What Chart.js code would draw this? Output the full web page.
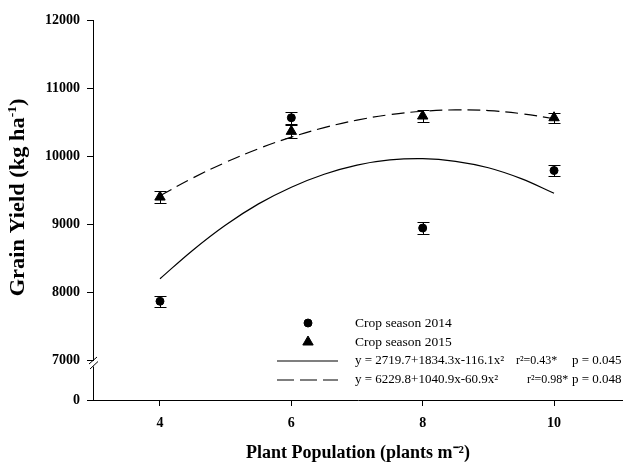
<!DOCTYPE html>
<html>
<head>
<meta charset="utf-8">
<script src="https://cdn.jsdelivr.net/npm/chart.js@4.4.1/dist/chart.umd.min.js"></script>
<style>
  html, body { margin: 0; padding: 0; background: #fff; }
  canvas { display: block; }
</style>
</head>
<body>
<canvas id="yieldChart" width="623" height="462"></canvas>
<script>
'use strict';

// plant population (plants m-2)
const populations = [4, 6, 8, 10];

// grain yield means (kg ha-1) and error bars
const yield2014 = [7870, 10565, 8945, 9790];
const error2014 = [80, 85, 90, 85];
const yield2015 = [9400, 10365, 10590, 10565];
const error2015 = [90, 100, 85, 75];

// fitted curves
const fitX = [4, 4.5, 5, 5.5, 6, 6.5, 7, 7.5, 8, 8.5, 9, 9.5, 10];
const fit2014 = [8200, 8620, 8990, 9300, 9545, 9735, 9870, 9945, 9965, 9925, 9830, 9670, 9455];
const fit2015 = [9420, 9680, 9910, 10110, 10280, 10420, 10530, 10610, 10660, 10680, 10670, 10625, 10550];

// axes
const xTicks = [4, 6, 8, 10];
const yTicks = [0, 7000, 8000, 9000, 10000, 11000, 12000];
const yBreakFloor = 6420; // where "0" sits under the axis break

// legend texts
const seasonLabels = ['Crop season 2014', 'Crop season 2015'];
const fitEquations = ['y = 2719.7+1834.3x-116.1x²', 'y = 6229.8+1040.9x-60.9x²'];
const fitR2 = ['r²=0.43*', 'r²=0.98*'];
const fitP = ['p = 0.045', 'p = 0.048'];

const serif = 'Liberation Serif';

const toPoints = (xs, ys) => xs.map((x, i) => ({x: x, y: ys[i]}));

// vertical error bars with caps
const errorBars = {
  id: 'errorBars',
  beforeDatasetsDraw(chart) {
    const {ctx, scales: {x, y}} = chart;
    ctx.save();
    ctx.strokeStyle = '#000';
    ctx.lineWidth = 1;
    chart.data.datasets.forEach((ds) => {
      if (!ds.errors) return;
      ds.data.forEach((p, i) => {
        const px = Math.round(x.getPixelForValue(p.x)) + 0.5;
        const top = Math.round(y.getPixelForValue(p.y + ds.errors[i])) + 0.5;
        const bot = Math.round(y.getPixelForValue(p.y - ds.errors[i])) + 0.5;
        ctx.beginPath();
        ctx.moveTo(px, top);
        ctx.lineTo(px, bot);
        ctx.moveTo(px - 6, top);
        ctx.lineTo(px + 6, top);
        ctx.moveTo(px - 6, bot);
        ctx.lineTo(px + 6, bot);
        ctx.stroke();
      });
    });
    ctx.restore();
  }
};

// the // break on the y axis just under 7000
const axisBreak = {
  id: 'axisBreak',
  afterDraw(chart) {
    const {ctx, scales: {y}} = chart;
    const bx = y.right;
    const by = y.getPixelForValue(yTicks[1]);
    ctx.save();
    ctx.fillStyle = '#fff';
    ctx.fillRect(bx - 1.5, by + 0.5, 3, 5.5);
    ctx.strokeStyle = '#000';
    ctx.lineWidth = 1;
    ctx.beginPath();
    ctx.moveTo(bx - 4, by + 3.5);
    ctx.lineTo(bx + 4, by - 3.5);
    ctx.moveTo(bx - 3, by + 8.5);
    ctx.lineTo(bx + 5, by + 1);
    ctx.stroke();
    ctx.restore();
  }
};

// y axis title with a real superscript
const yTitle = {
  id: 'yTitle',
  afterDraw(chart) {
    const ctx = chart.ctx;
    const parts = ['Grain Yield (kg ha', '-1', ')'];
    ctx.save();
    ctx.translate(19, 197.5);
    ctx.rotate(-Math.PI / 2);
    ctx.scale(1.12, 1);
    ctx.fillStyle = '#000';
    ctx.textBaseline = 'middle';
    ctx.textAlign = 'left';
    const big = 'bold 20px "' + serif + '"';
    const small = 'bold 12px "' + serif + '"';
    ctx.font = big;
    const w0 = ctx.measureText(parts[0]).width;
    const w2 = ctx.measureText(parts[2]).width;
    ctx.font = small;
    const w1 = ctx.measureText(parts[1]).width;
    let x0 = -(w0 + w1 + w2) / 2;
    ctx.font = big;
    ctx.fillText(parts[0], x0, 0);
    ctx.font = small;
    ctx.fillText(parts[1], x0 + w0, -6);
    ctx.font = big;
    ctx.fillText(parts[2], x0 + w0 + w1, 0);
    ctx.restore();
  }
};

// legend inside the plot, lower right
const insideLegend = {
  id: 'insideLegend',
  afterDraw(chart) {
    const ctx = chart.ctx;
    const rows = [323, 342, 361, 380];
    const markX = 308;
    const textX = 355;
    ctx.save();
    ctx.fillStyle = '#000';
    ctx.strokeStyle = '#000';
    Chart.helpers.drawPoint(ctx, {pointStyle: 'circle', radius: 4, rotation: 0, borderWidth: 1}, markX, rows[0]);
    Chart.helpers.drawPoint(ctx, {pointStyle: 'triangle', radius: 6, rotation: 0, borderWidth: 1}, markX, rows[1]);

    ctx.lineWidth = 1.2;
    ctx.beginPath();
    ctx.moveTo(277, rows[2]);
    ctx.lineTo(338, rows[2]);
    ctx.stroke();
    ctx.setLineDash([17, 6]);
    ctx.beginPath();
    ctx.moveTo(277, rows[3]);
    ctx.lineTo(338, rows[3]);
    ctx.stroke();
    ctx.setLineDash([]);

    ctx.textBaseline = 'middle';
    ctx.textAlign = 'left';
    ctx.font = '13.5px "' + serif + '"';
    ctx.fillText(seasonLabels[0], textX, rows[0]);
    ctx.fillText(seasonLabels[1], textX, rows[1]);
    ctx.font = '13px "' + serif + '"';
    ctx.fillText(fitEquations[0], textX, rows[2]);
    ctx.fillText(fitEquations[1], textX, rows[3]);
    ctx.fillText(fitP[0], 572, rows[2]);
    ctx.fillText(fitP[1], 572, rows[3]);
    ctx.font = '12px "' + serif + '"';
    ctx.fillText(fitR2[0], 516, rows[2]);
    ctx.fillText(fitR2[1], 527, rows[3]);
    ctx.restore();
  }
};

const ctx = document.getElementById('yieldChart');
const myChart = new Chart(ctx, {
  type: 'scatter',
  data: {
    datasets: [
      {
        label: seasonLabels[0],
        data: toPoints(populations, yield2014),
        errors: error2014,
        pointStyle: 'circle',
        pointRadius: 4,
        pointBorderWidth: 1,
        backgroundColor: '#000',
        borderColor: '#000',
      },
      {
        label: seasonLabels[1],
        data: toPoints(populations, yield2015),
        errors: error2015,
        pointStyle: 'triangle',
        pointRadius: 6,
        pointBorderWidth: 1,
        backgroundColor: '#000',
        borderColor: '#000',
      },
      {
        label: fitEquations[0],
        data: toPoints(fitX, fit2014),
        showLine: true,
        tension: 0.4,
        pointRadius: 0,
        borderWidth: 1.2,
        borderColor: '#000',
      },
      {
        label: fitEquations[1],
        data: toPoints(fitX, fit2015),
        showLine: true,
        tension: 0.4,
        pointRadius: 0,
        borderWidth: 1.2,
        borderColor: '#000',
        borderDash: [13, 6],
      },
    ]
  },
  options: {
    responsive: false,
    animation: false,
    layout: {
      autoPadding: false,
      padding: {top: 20, right: 0, bottom: 0, left: 0}
    },
    scales: {
      x: {
        type: 'linear',
        min: 2.98,
        max: 11.05,
        afterBuildTicks: (scale) => {
          scale.ticks = xTicks.map((v) => ({value: v}));
        },
        afterFit: (scale) => {
          scale.height = 62;
        },
        grid: {
          display: true,
          drawOnChartArea: false,
          drawTicks: true,
          tickLength: 6,
          color: '#000',
          tickColor: '#000',
        },
        border: {display: true, color: '#000', width: 1},
        ticks: {
          color: '#000',
          padding: 9,
          maxRotation: 0,
          font: {family: serif, size: 14, weight: 'bold'},
        },
        title: {
          display: true,
          text: 'Plant Population (plants m⁻²)',
          color: '#000',
          font: {family: serif, size: 18, weight: 'bold', lineHeight: 1},
          padding: {top: 0, bottom: 0},
        },
      },
      y: {
        type: 'linear',
        min: yBreakFloor,
        max: 12000,
        afterBuildTicks: (scale) => {
          scale.ticks = yTicks.map((v) => ({value: v === 0 ? yBreakFloor : v}));
        },
        afterFit: (scale) => {
          scale.width = 93;
        },
        grid: {
          display: true,
          drawOnChartArea: false,
          drawTicks: true,
          tickLength: 6,
          color: '#000',
          tickColor: '#000',
        },
        border: {display: true, color: '#000', width: 1},
        ticks: {
          color: '#000',
          padding: 7,
          font: {family: serif, size: 14, weight: 'bold'},
          callback: function (value) {
            return value < yTicks[1] ? '0' : String(value);
          },
        },
        title: {display: false},
      },
    },
    plugins: {
      legend: {display: false},
      tooltip: {enabled: false},
    },
  },
  plugins: [errorBars, axisBreak, yTitle, insideLegend],
});
</script>
</body>
</html>
